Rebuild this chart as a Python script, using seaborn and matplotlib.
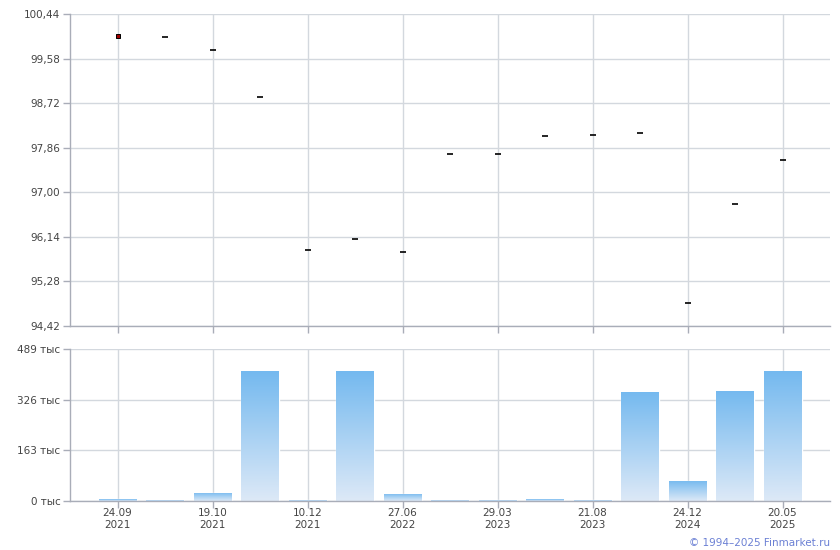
import numpy as np
import pandas as pd
import matplotlib
matplotlib.use("Agg")
import matplotlib.pyplot as plt
import seaborn as sns
from matplotlib.ticker import FixedLocator, FixedFormatter
from matplotlib.colors import LinearSegmentedColormap

# ---- data ----
slots = list(range(15))
prices = [100.02, 100.00, 99.75, 98.84, 95.89, 96.10, 95.85, 97.74, 97.74,
          98.09, 98.11, 98.14, 94.86, 96.77, 97.62]
volumes = [6, 3, 27, 418, 3, 418, 23, 3, 3, 6, 3, 351, 65, 354, 418]  # тыс
tick_pos = [0, 2, 4, 6, 8, 10, 12, 14]
tick_labels = ["24.09\n2021", "19.10\n2021", "10.12\n2021", "27.06\n2022",
               "29.03\n2023", "21.08\n2023", "24.12\n2024", "20.05\n2025"]
price_ticks = [94.42, 95.28, 96.14, 97.00, 97.86, 98.72, 99.58, 100.44]
vol_ticks = [0, 163, 326, 489]
footer = "© 1994–2025 Finmarket.ru"

sns.set_theme(style="white")
plt.rcParams['font.family'] = ['DejaVu Sans']

W, H = 840, 550
fig = plt.figure(figsize=(W / 100, H / 100), dpi=100)
ax1 = fig.add_axes([70 / W, 1 - 326 / H, 760 / W, 312 / H])
ax2 = fig.add_axes([70 / W, 1 - 501 / H, 760 / W, 152 / H])

grid_c = "#d3d8de"
spine_c = "#a9adb8"
text_c = "#444444"

df = pd.DataFrame({"slot": slots, "price": prices, "vol": volumes})

# ---- top: price marks ----
sns.scatterplot(data=df.iloc[1:], x="slot", y="price", marker="_", s=20,
                color="black", linewidth=1.2, ax=ax1, zorder=3)
sns.scatterplot(data=df.iloc[:1], x="slot", y="price", marker="s", s=8,
                color="#a00000", edgecolor="black", linewidth=0.7, ax=ax1, zorder=3)

# ---- bottom: volume bars ----
sns.barplot(data=df, x="slot", y="vol", native_scale=True, width=0.8,
            color="#78bcf0", saturation=1, ax=ax2, zorder=2)
grad = np.linspace(0, 1, 256).reshape(-1, 1)
cmap = LinearSegmentedColormap.from_list("g", ["#74b9ef", "#dde9f7"])
for p in ax2.patches:
    x0 = p.get_x(); w = p.get_width(); h = p.get_height()
    im = ax2.imshow(grad, extent=(x0, x0 + w, 0, h), aspect="auto", cmap=cmap,
                    origin="upper", zorder=2.5)
    im.set_clip_path(p)

for ax in (ax1, ax2):
    ax.set_xlim(-1, 15)
    ax.set_xlabel(""); ax.set_ylabel("")
    ax.xaxis.set_major_locator(FixedLocator(tick_pos))
    ax.grid(True, color=grid_c, linewidth=1)
    ax.set_axisbelow(True)
    for s in ("top", "right"):
        ax.spines[s].set_visible(False)
    for s in ("left", "bottom"):
        ax.spines[s].set_color(spine_c)
        ax.spines[s].set_linewidth(1)
    ax.tick_params(axis="both", which="major", length=5, width=1, color=spine_c,
                   labelsize=7.5, labelcolor=text_c, pad=2, direction="out",
                   bottom=True, left=True)

ax1.set_ylim(94.42, 100.44)
ax1.yaxis.set_major_locator(FixedLocator(price_ticks))
ax1.yaxis.set_major_formatter(FixedFormatter([f"{v:.2f}".replace(".", ",") for v in price_ticks]))
ax1.set_xticklabels([""] * len(tick_pos))

ax2.set_ylim(0, 489)
ax2.set_xlim(-1, 15)
ax2.yaxis.set_major_locator(FixedLocator(vol_ticks))
ax2.yaxis.set_major_formatter(FixedFormatter([f"{v} тыс" for v in vol_ticks]))
ax2.set_xticklabels(tick_labels, linespacing=1.2)
ax2.tick_params(axis="x", pad=0)

fig.text(830 / W, 1 - 543 / H, footer, ha="right", va="center",
         fontsize=7.5, color="#6b80d4")

fig.savefig("out.png", dpi=100)
